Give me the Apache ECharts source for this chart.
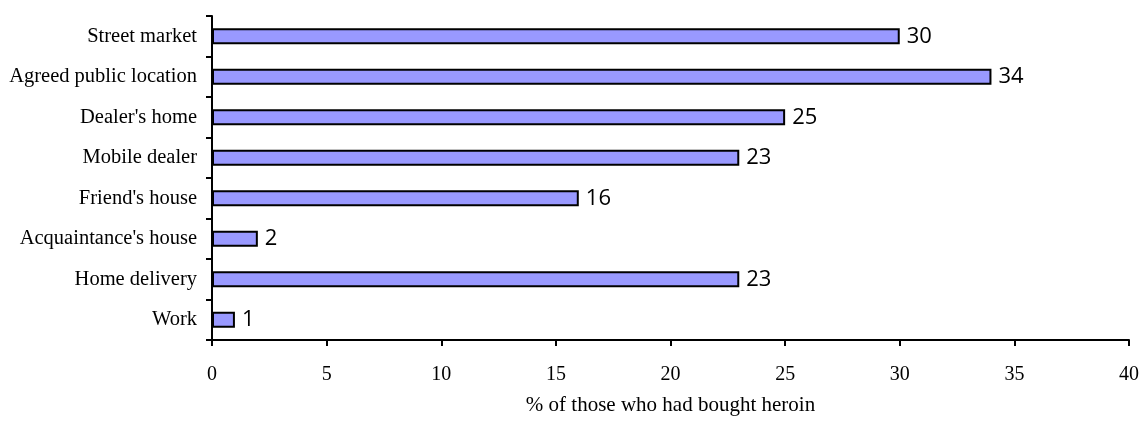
<!DOCTYPE html>
<html><head><meta charset="utf-8">
<script src="https://cdn.jsdelivr.net/npm/echarts@6/dist/echarts.min.js"></script>
<style>html,body{margin:0;padding:0;background:#fff}#c{width:1142px;height:421px}</style>
</head><body><div id="c"></div>
<script>
const categories = ["Street market","Agreed public location","Dealer's home","Mobile dealer","Friend's house","Acquaintance's house","Home delivery","Work"];
const values = [30,34,25,23,16,2,23,1];
const xAxisName = "% of those who had bought heroin";

const chart = echarts.init(document.getElementById('c'), null, {renderer:'canvas'});
chart.setOption({
  animation:false,
  backgroundColor:'#fff',
  grid:{left:212,right:12,top:16,bottom:77,containLabel:false},
  xAxis:{
    type:'value',min:0,max:40,interval:5,
    name:xAxisName,nameLocation:'middle',nameGap:55,
    nameTextStyle:{fontFamily:'Liberation Serif',fontSize:21,color:'#000'},
    axisLine:{show:true,lineStyle:{color:'#000',width:2}},
    axisTick:{show:true,length:6,lineStyle:{color:'#000',width:2}},
    axisLabel:{fontFamily:'Liberation Serif',fontSize:20,color:'#000',margin:25},
    splitLine:{show:false}
  },
  yAxis:{
    type:'category',data:categories,inverse:true,
    axisLine:{show:true,lineStyle:{color:'#000',width:2}},
    axisTick:{show:true,length:6,inside:false,lineStyle:{color:'#000',width:2}},
    axisLabel:{fontFamily:'Liberation Serif',fontSize:20.5,color:'#000',margin:15}
  },
  series:[{
    type:'bar',data:values,barWidth:'40%',
    itemStyle:{color:'#9999FF',borderColor:'#000',borderWidth:2},
    label:{show:true,position:'right',distance:7,fontFamily:'Open Sans',fontSize:22,color:'#000'}
  }]
});
</script></body></html>
